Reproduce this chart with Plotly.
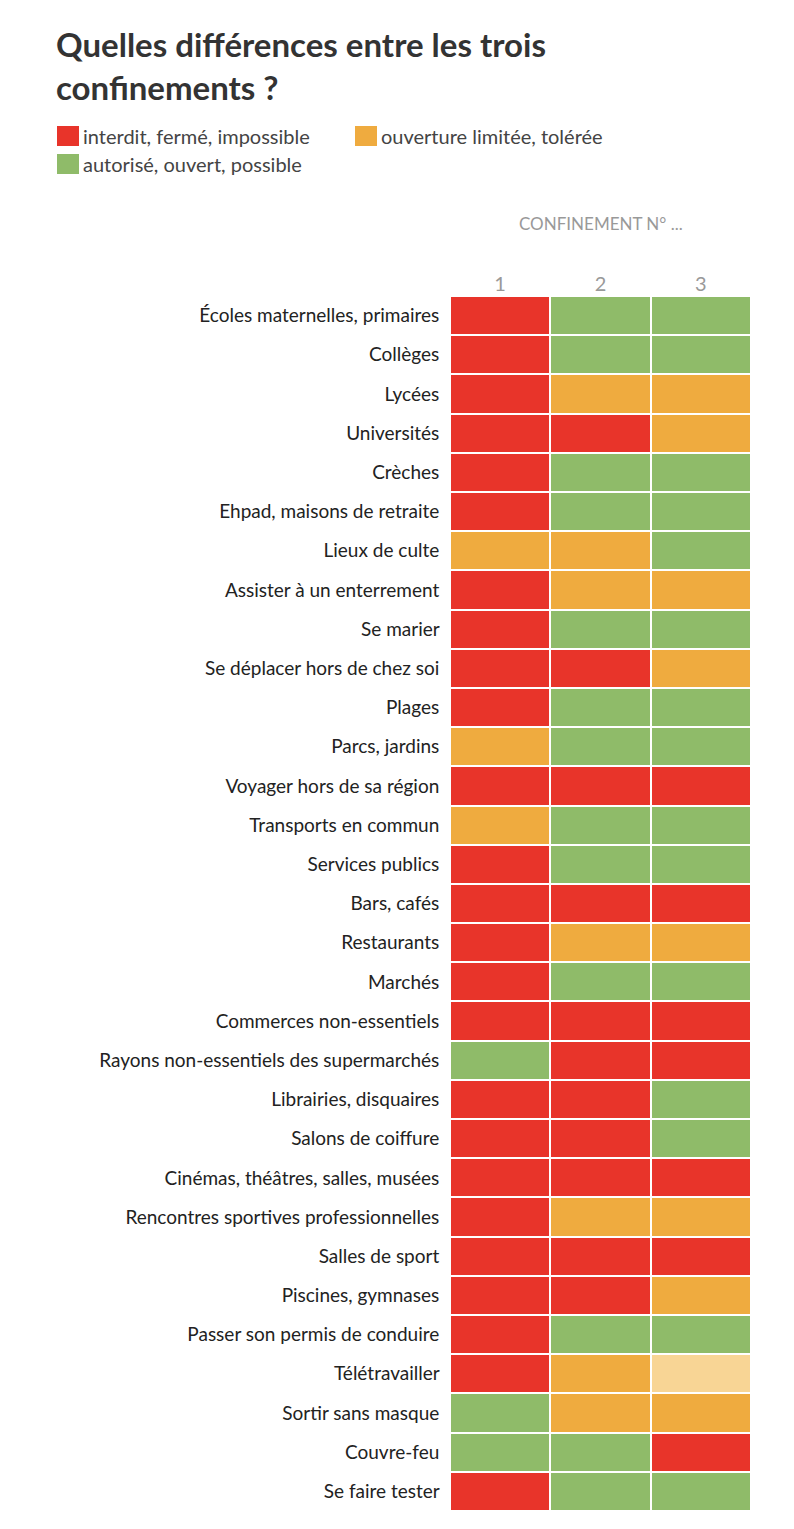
import plotly.graph_objects as go

# 0 = interdit, 1 = limité/toléré, 2 = autorisé, 3 = partiellement toléré (clair)
rows = [
    "Écoles maternelles, primaires", "Collèges", "Lycées", "Universités", "Crèches",
    "Ehpad, maisons de retraite", "Lieux de culte", "Assister à un enterrement",
    "Se marier", "Se déplacer hors de chez soi", "Plages", "Parcs, jardins",
    "Voyager hors de sa région", "Transports en commun", "Services publics",
    "Bars, cafés", "Restaurants", "Marchés", "Commerces non-essentiels",
    "Rayons non-essentiels des supermarchés", "Librairies, disquaires",
    "Salons de coiffure", "Cinémas, théâtres, salles, musées",
    "Rencontres sportives professionnelles", "Salles de sport",
    "Piscines, gymnases", "Passer son permis de conduire", "Télétravailler",
    "Sortir sans masque", "Couvre-feu", "Se faire tester",
]
conf1 = [0, 0, 0, 0, 0, 0, 1, 0, 0, 0, 0, 1, 0, 1, 0, 0, 0, 0, 0, 2, 0, 0, 0, 0, 0, 0, 0, 0, 2, 2, 0]
conf2 = [2, 2, 1, 0, 2, 2, 1, 1, 2, 0, 2, 2, 0, 2, 2, 0, 1, 2, 0, 0, 0, 0, 0, 1, 0, 0, 2, 1, 1, 2, 2]
conf3 = [2, 2, 1, 1, 2, 2, 2, 1, 2, 1, 2, 2, 0, 2, 2, 0, 1, 2, 0, 0, 2, 2, 0, 1, 0, 1, 2, 3, 1, 0, 2]
columns = ["1", "2", "3"]

RED, ORANGE, GREEN, LIGHT = "#e8342a", "#efab3f", "#8fbb69", "#f8d595"
FONT = "Lato"

# page is rendered ~8px shifted, margins compensate
L, R, T, B = 442, 51, 288, 26
W, H = 794 - L - R, 1529 - T - B


def px(x):
    return (x - 8 - L) / W


def py(y):
    return (1529 - B - (y - 8)) / H


z = [[a, b, c] for a, b, c in zip(conf1, conf2, conf3)]
scale = [[0, RED], [0.25, RED], [0.25, ORANGE], [0.5, ORANGE],
         [0.5, GREEN], [0.75, GREEN], [0.75, LIGHT], [1, LIGHT]]

fig = go.Figure(go.Heatmap(
    z=z, x=columns, y=rows, zmin=-0.5, zmax=3.5, colorscale=scale,
    showscale=False, xgap=2, ygap=2, hoverinfo="skip"))

fig.update_layout(
    width=794, height=1529, paper_bgcolor="white", plot_bgcolor="white",
    margin=dict(l=L, r=R, t=T, b=B),
    font=dict(family=FONT, size=19, color="#333333"),
)
fig.update_xaxes(side="top", showgrid=False, zeroline=False, ticks="",
                 tickfont=dict(size=20, color="#999999"))
fig.update_yaxes(autorange="reversed", showgrid=False, zeroline=False, ticks="",
                 ticksuffix="  ", tickfont=dict(size=19, color="#222222"))

fig.add_annotation(text="<b>Quelles différences entre les trois<br>confinements ?</b>",
                   xref="paper", yref="paper", x=px(54), y=py(22), xanchor="left",
                   yanchor="top", align="left", showarrow=False,
                   font=dict(size=33, color="#333333"))
legend = [(RED, "interdit, fermé, impossible", 57, 136),
          (ORANGE, "ouverture limitée, tolérée", 355, 136),
          (GREEN, "autorisé, ouvert, possible", 57, 164)]
for col, label, lx, ly in legend:
    fig.add_shape(type="rect", xref="paper", yref="paper",
                  x0=px(lx), x1=px(lx + 22), y0=py(ly + 10), y1=py(ly - 10),
                  fillcolor=col, line_width=0)
    fig.add_annotation(text=label, xref="paper", yref="paper",
                       x=px(lx + 24), y=py(ly), xanchor="left", yanchor="middle",
                       showarrow=False, font=dict(size=20, color="#444444"))
fig.add_annotation(text="CONFINEMENT N° ...", xref="paper", yref="paper",
                   x=0.5, y=py(223), xanchor="center", yanchor="middle",
                   showarrow=False, font=dict(size=17, color="#999999"))
fig.add_shape(type="rect", xref="paper", yref="paper", x0=px(0), x1=px(5),
              y0=py(1529), y1=py(0), fillcolor="#eeeeee", line_width=0)

fig.write_html("out.html")
